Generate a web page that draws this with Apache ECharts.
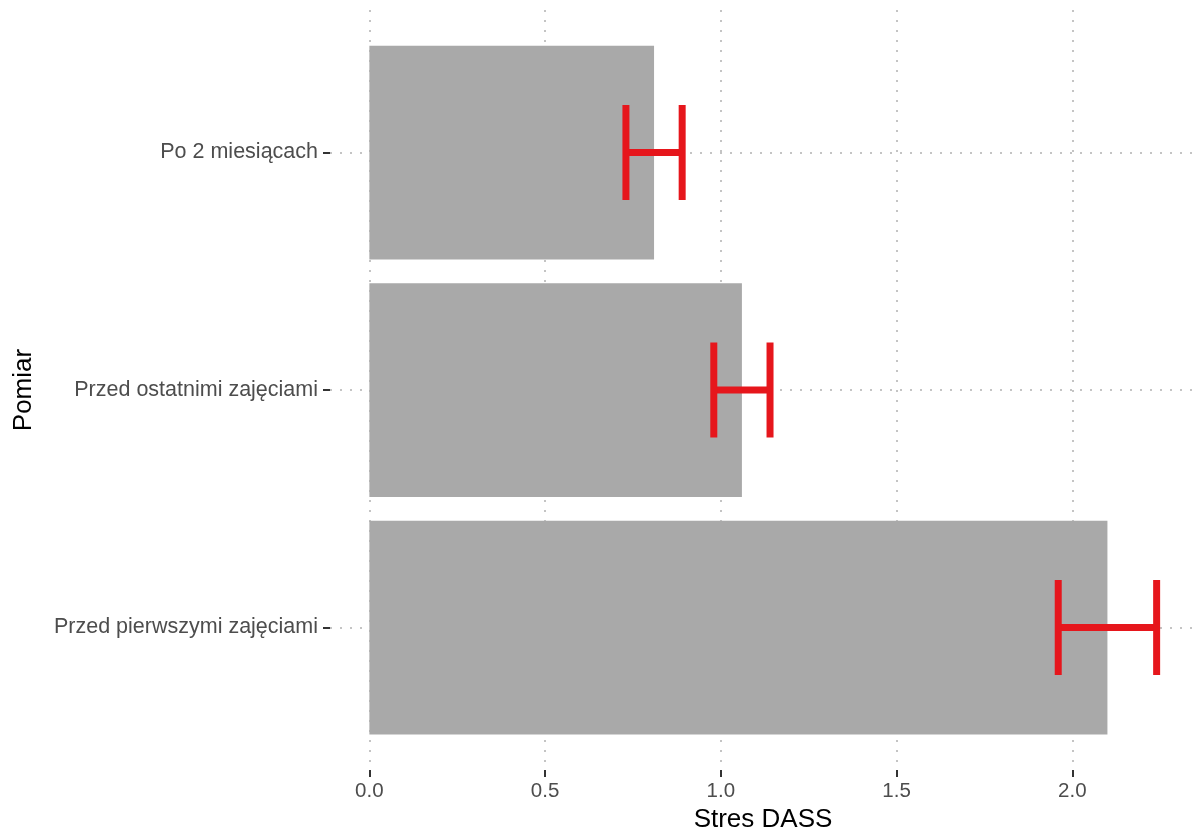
<!DOCTYPE html>
<html>
<head>
<meta charset="utf-8">
<script src="https://cdn.jsdelivr.net/npm/echarts@6/dist/echarts.min.js"></script>
<style>
html, body { margin: 0; padding: 0; background: #fff; }
#main { width: 1192px; height: 832px; }
</style>
</head>
<body>
<div id="main"></div>
<script>
// categories from bottom to top
const categories = ['Przed pierwszymi zajęciami', 'Przed ostatnimi zajęciami', 'Po 2 miesiącach']
const means = [2.10, 1.06, 0.81]
const lower = [1.96, 0.98, 0.73]
const upper = [2.24, 1.14, 0.89]
const xTicks = [0, 0.5, 1, 1.5, 2]
const yPos = [1, 2, 3]

const font = 'Liberation Sans'
const gridLine = { color: '#c4c4c4', width: 2, type: [2, 8] }
const tickLine = { color: '#333', width: 2 }

let barData = means.map((m, i) => [m, yPos[i]])
let errData = lower.map((l, i) => [l, upper[i], yPos[i]])

let myChart = echarts.init(document.getElementById('main'))
let option = {
  animation: false,
  grid: { left: 330, top: 10, width: 866, bottom: 62, outerBoundsMode: 'none', containLabel: false },
  xAxis: {
    type: 'value',
    min: -0.112,
    max: 2.352,
    axisLine: { show: false, onZero: false },
    axisTick: { show: true, customValues: xTicks, length: 7, lineStyle: tickLine },
    axisLabel: {
      customValues: xTicks,
      formatter: v => v.toFixed(1),
      fontFamily: font, fontSize: 20.5, color: '#4d4d4d', margin: 11
    },
    splitLine: { show: true, lineStyle: gridLine },
    name: 'Stres DASS',
    nameLocation: 'middle',
    nameGap: 34,
    nameTextStyle: { fontFamily: font, fontSize: 26, color: '#000' }
  },
  yAxis: {
    type: 'value',
    min: 0.4,
    max: 3.6,
    axisLine: { show: false, onZero: false },
    axisTick: { show: true, customValues: yPos, length: 7, lineStyle: tickLine },
    axisLabel: {
      customValues: yPos,
      formatter: v => categories[Math.round(v) - 1],
      fontFamily: font, fontSize: 21.5, color: '#4d4d4d', margin: 12
    },
    splitLine: { show: true, lineStyle: gridLine },
    name: 'Pomiar',
    nameLocation: 'middle',
    nameGap: 293,
    nameTextStyle: { fontFamily: font, fontSize: 26, color: '#000' }
  },
  series: [
    {
      type: 'custom',
      data: barData,
      encode: { x: 0, y: 1 },
      renderItem(params, api) {
        let y = api.value(1)
        let p0 = api.coord([0, y])
        let p1 = api.coord([api.value(0), y])
        let h = api.size([0, 0.9])[1]
        return {
          type: 'rect',
          shape: { x: p0[0], y: p0[1] - h / 2, width: p1[0] - p0[0], height: h },
          style: { fill: '#a9a9a9' }
        }
      }
    },
    {
      type: 'custom',
      data: errData,
      encode: { x: [0, 1], y: 2 },
      renderItem(params, api) {
        let y = api.value(2)
        let a = api.coord([api.value(0), y])
        let b = api.coord([api.value(1), y])
        let h = api.size([0, 0.4])[1]
        let st = { stroke: '#e6161c', lineWidth: 7, lineCap: 'butt' }
        return {
          type: 'group',
          children: [
            { type: 'line', shape: { x1: a[0], y1: a[1], x2: b[0], y2: b[1] }, style: st },
            { type: 'line', shape: { x1: a[0], y1: a[1] - h / 2, x2: a[0], y2: a[1] + h / 2 }, style: st },
            { type: 'line', shape: { x1: b[0], y1: b[1] - h / 2, x2: b[0], y2: b[1] + h / 2 }, style: st }
          ]
        }
      }
    }
  ]
}
myChart.setOption(option)
</script>
</body>
</html>
